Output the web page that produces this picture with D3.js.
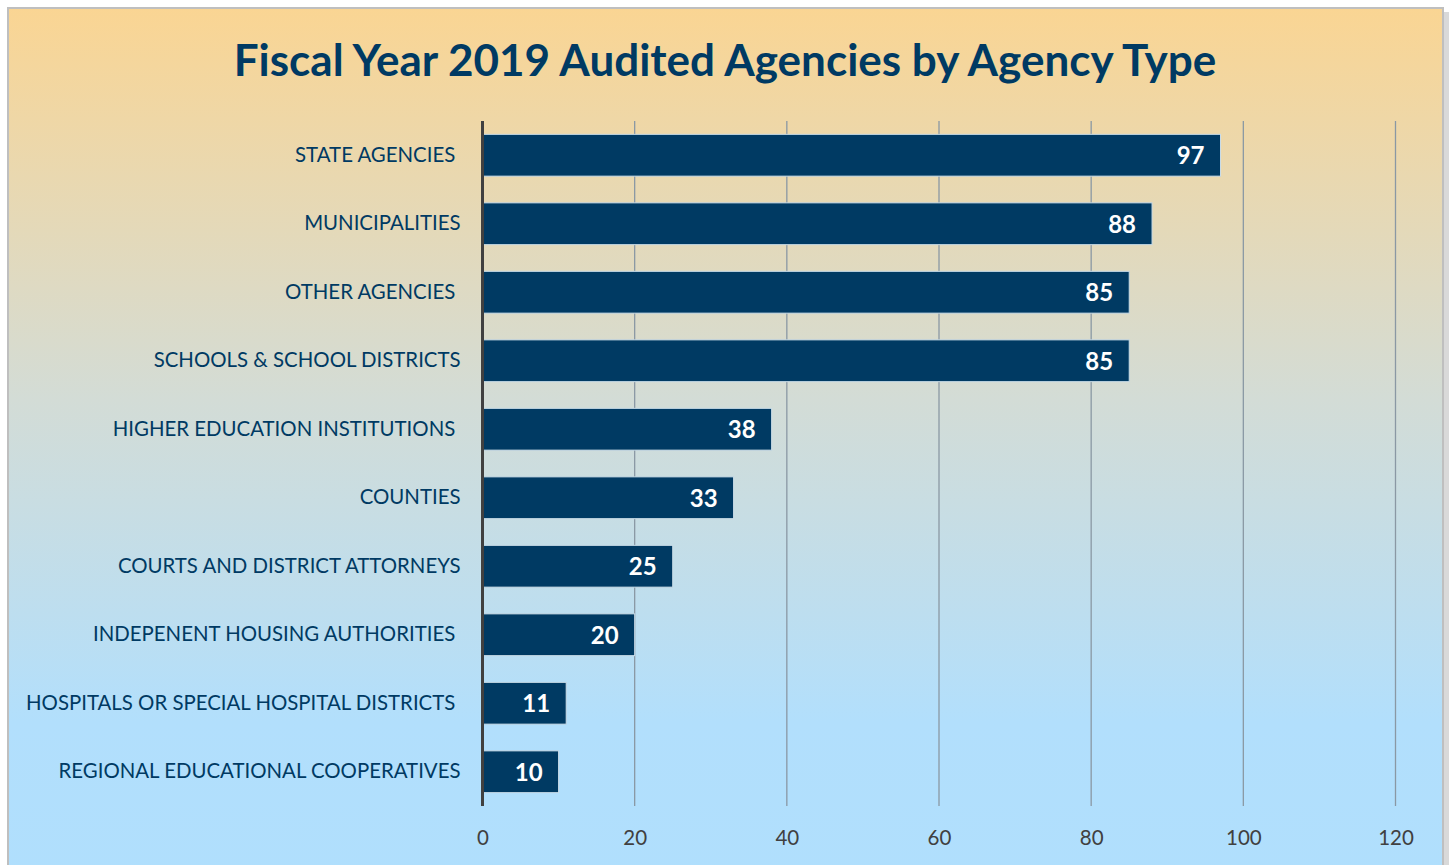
<!DOCTYPE html>
<html>
<head>
<meta charset="utf-8">
<script src="https://cdn.jsdelivr.net/npm/d3@7"></script>
<style>
  html, body { margin: 0; padding: 0; background: #fff; }
  svg text { font-family: Lato, "Open Sans", sans-serif; }
</style>
</head>
<body>
<div id="canvas"></div>
<script>
// categories as shown top to bottom (trailing spaces kept as in the original labels)
const categories = [
  "STATE AGENCIES ",
  "MUNICIPALITIES",
  "OTHER AGENCIES ",
  "SCHOOLS & SCHOOL DISTRICTS",
  "HIGHER EDUCATION INSTITUTIONS ",
  "COUNTIES",
  "COURTS AND DISTRICT ATTORNEYS",
  "INDEPENENT HOUSING AUTHORITIES ",
  "HOSPITALS OR SPECIAL HOSPITAL DISTRICTS ",
  "REGIONAL EDUCATIONAL COOPERATIVES"
];
const counts = [97, 88, 85, 85, 38, 33, 25, 20, 11, 10];
const xTicks = [0, 20, 40, 60, 80, 100, 120];
const title = "Fiscal Year 2019 Audited Agencies by Agency Type";

const data = categories.map((c, i) => ({ name: c, value: counts[i] }));

const width = 1452;
const height = 865;
const margin = { top: 121, left: 482.5, bottom: 59, right: 56.5 };
const iwidth = width - margin.left - margin.right;
const iheight = height - margin.top - margin.bottom;

const svg = d3.select("#canvas").append("svg")
  .attr("width", width)
  .attr("height", height);

// background gradient
const grad = svg.append("defs").append("linearGradient")
  .attr("id", "bg").attr("x1", 0).attr("y1", 0).attr("x2", 0).attr("y2", 1);
grad.append("stop").attr("offset", "0%").attr("stop-color", "#fad593");
grad.append("stop").attr("offset", "45%").attr("stop-color", "#d3dcd6");
grad.append("stop").attr("offset", "82%").attr("stop-color", "#b2dffc");
grad.append("stop").attr("offset", "100%").attr("stop-color", "#b0dffd");

// shadow + frame
svg.append("rect")
  .attr("x", 12).attr("y", 12).attr("width", 1437).attr("height", 870)
  .attr("fill", "#d9d9d9");
svg.append("rect")
  .attr("x", 8).attr("y", 8).attr("width", 1435).attr("height", 870)
  .attr("fill", "url(#bg)")
  .attr("stroke", "#bfbfbf").attr("stroke-width", 2);

svg.append("text")
  .attr("x", 725).attr("y", 76)
  .attr("text-anchor", "middle")
  .attr("fill", "#003a63")
  .style("font-size", "44px")
  .style("font-weight", "bold")
  .text(title);

const g = svg.append("g").attr("transform", `translate(${margin.left},${margin.top})`);

const x = d3.scaleLinear()
  .domain([0, 120])
  .range([0, iwidth]);

const y = d3.scaleBand()
  .domain(categories)
  .range([0, iheight])
  .paddingInner(0.39)
  .paddingOuter(0.195);

// gridlines
g.append("g")
  .selectAll("line")
  .data(xTicks.slice(1))
  .enter().append("line")
  .attr("x1", d => x(d)).attr("x2", d => x(d))
  .attr("y1", 0).attr("y2", iheight)
  .attr("stroke", "#8a98a4")
  .attr("stroke-width", 1.3);

// x axis labels
const xAxis = g.append("g")
  .attr("transform", `translate(0, ${iheight})`)
  .call(d3.axisBottom(x).tickValues(xTicks).tickSize(0).tickPadding(24));
xAxis.select(".domain").remove();
xAxis.selectAll("text")
  .attr("fill", "#404040")
  .style("font-size", "20.5px")
  .style("font-family", "Lato, 'Open Sans', sans-serif");

// category labels
const yAxis = g.append("g")
  .call(d3.axisLeft(y).tickSize(0).tickPadding(22));
yAxis.select(".domain").remove();
yAxis.selectAll("text")
  .attr("fill", "#003a63")
  .style("font-size", "20.4px")
  .style("white-space", "pre")
  .style("font-family", "Lato, 'Open Sans', sans-serif");

// bars
g.selectAll("rect.bar")
  .data(data)
  .enter().append("rect")
  .attr("class", "bar")
  .attr("x", 0)
  .attr("y", d => y(d.name))
  .attr("width", d => x(d.value))
  .attr("height", y.bandwidth())
  .attr("fill", "#003a63")
  .attr("stroke", "#c9dce8")
  .attr("stroke-width", 1);

// value labels
g.selectAll("text.val")
  .data(data)
  .enter().append("text")
  .attr("class", "val")
  .attr("x", d => x(d.value) - 16)
  .attr("y", d => y(d.name) + y.bandwidth() / 2)
  .attr("dy", "0.38em")
  .attr("text-anchor", "end")
  .attr("fill", "#ffffff")
  .style("font-size", "24px")
  .style("font-weight", "bold")
  .text(d => d.value);

// vertical axis line
g.append("line")
  .attr("x1", 0).attr("x2", 0)
  .attr("y1", 0).attr("y2", iheight)
  .attr("stroke", "#404040")
  .attr("stroke-width", 3);
</script>
</body>
</html>
